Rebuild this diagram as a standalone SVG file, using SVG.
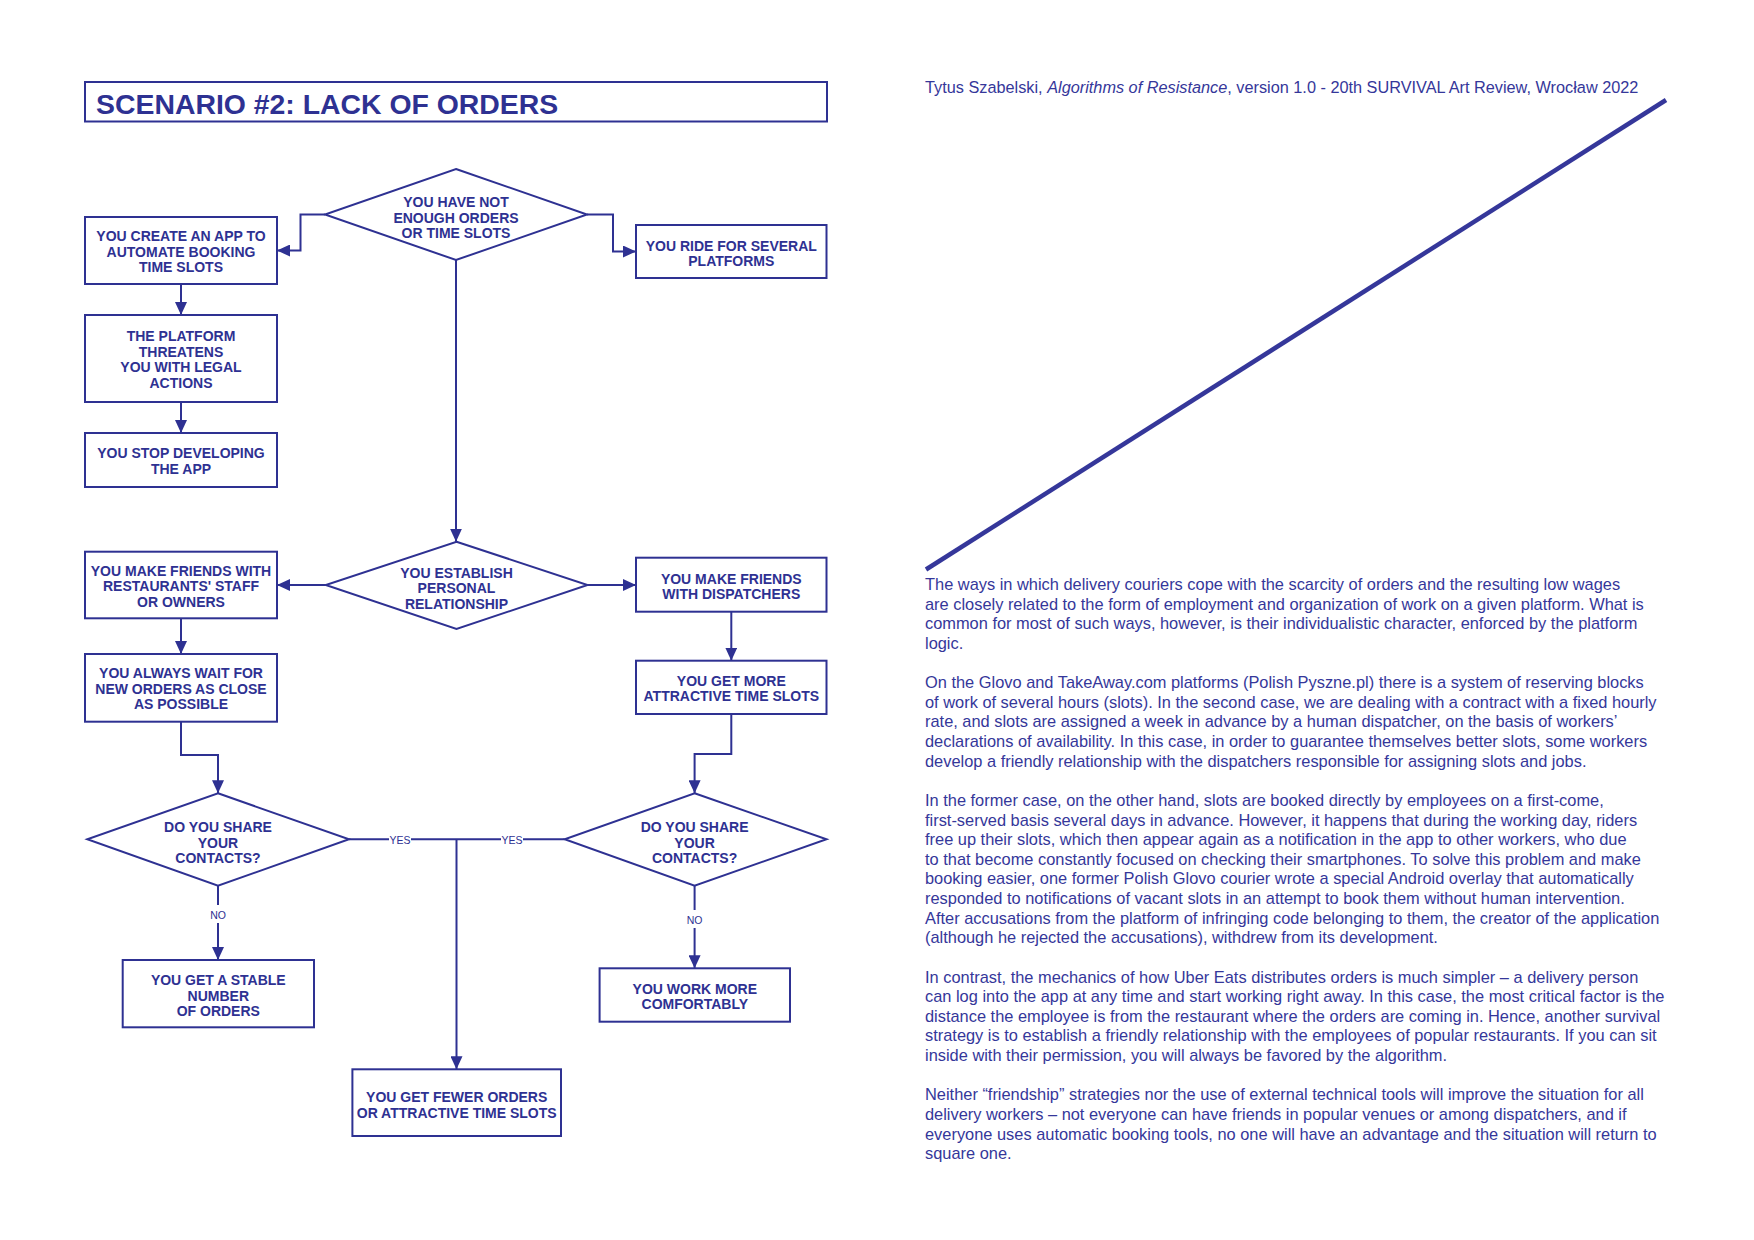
<svg xmlns="http://www.w3.org/2000/svg" width="1754" height="1240" viewBox="0 0 1754 1240">
<defs>
<marker id="ah" markerUnits="userSpaceOnUse" markerWidth="13" markerHeight="12" refX="13" refY="6" orient="auto">
<path d="M0,0 L13,6 L0,12 z" fill="#2e3192"/>
</marker>
<style>
.box{fill:#fff;stroke:#2e3192;stroke-width:2}
.nt{font-family:"Liberation Sans",Arial,sans-serif;font-weight:bold;font-size:14px;fill:#2e3192;text-anchor:middle}
.cn{fill:none;stroke:#2e3192;stroke-width:2}
.ar{marker-end:url(#ah)}
.lbl{font-family:"Liberation Sans",Arial,sans-serif;font-size:10.5px;fill:#2e3192;text-anchor:middle}
.body{font-family:"Liberation Sans",Arial,sans-serif;font-size:16.4px;fill:#35379a}
</style>
</defs>
<rect width="1754" height="1240" fill="#fff"/>

<g id="title">
<rect class="box" x="85" y="82" width="742" height="39.5"/>
<text x="96" y="114" font-family="Liberation Sans, Arial, sans-serif" font-weight="bold" font-size="28.4" fill="#2e3192">SCENARIO #2: LACK OF ORDERS</text>
</g>

<g id="connectors">
<path class="cn ar" d="M325,214.5 H300.5 V250.5 H277"/>
<path class="cn ar" d="M587,214.5 H613 V251.5 H636"/>
<path class="cn ar" d="M181,284 V315"/>
<path class="cn ar" d="M181,402 V433"/>
<path class="cn ar" d="M456,260 V541.7"/>
<path class="cn ar" d="M325.8,585 H277"/>
<path class="cn ar" d="M587.5,585 H636"/>
<path class="cn ar" d="M181,618.3 V654"/>
<path class="cn ar" d="M731.3,611.7 V660.7"/>
<path class="cn ar" d="M181,721.7 V755 H218 V793.3"/>
<path class="cn ar" d="M731.3,714 V754 H694.6 V793.3"/>
<path class="cn" d="M349,839.3 H389 M411,839.3 H501 M523,839.3 H564.7"/>
<path class="cn ar" d="M456.5,839.3 V1069.3"/>
<path class="cn" d="M218,885.7 V905"/>
<path class="cn ar" d="M218,923 V960"/>
<path class="cn" d="M694.6,885.7 V910"/>
<path class="cn ar" d="M694.6,928 V968.3"/>
<text class="lbl" x="400" y="843.5">YES</text>
<text class="lbl" x="512" y="843.5">YES</text>
<text class="lbl" x="218" y="918.5">NO</text>
<text class="lbl" x="694.6" y="923.5">NO</text>
</g>

<g id="n_not_enough">
<polygon class="box" points="456,169 587,214.5 456,260 325,214.5"/>
<text class="nt"><tspan x="456" y="207">YOU HAVE NOT</tspan><tspan x="456" y="222.5">ENOUGH ORDERS</tspan><tspan x="456" y="238">OR TIME SLOTS</tspan></text>
</g>
<g id="n_create_app">
<rect class="box" x="85" y="217" width="192" height="67"/>
<text class="nt"><tspan x="181" y="241">YOU CREATE AN APP TO</tspan><tspan x="181" y="256.5">AUTOMATE BOOKING</tspan><tspan x="181" y="272">TIME SLOTS</tspan></text>
</g>
<g id="n_ride">
<rect class="box" x="636" y="225" width="190.5" height="53"/>
<text class="nt"><tspan x="731.3" y="250.5">YOU RIDE FOR SEVERAL</tspan><tspan x="731.3" y="266">PLATFORMS</tspan></text>
</g>
<g id="n_threatens">
<rect class="box" x="85" y="315" width="192" height="87"/>
<text class="nt"><tspan x="181" y="341">THE PLATFORM</tspan><tspan x="181" y="356.5">THREATENS</tspan><tspan x="181" y="372">YOU WITH LEGAL</tspan><tspan x="181" y="387.5">ACTIONS</tspan></text>
</g>
<g id="n_stop">
<rect class="box" x="85" y="433" width="192" height="54"/>
<text class="nt"><tspan x="181" y="458">YOU STOP DEVELOPING</tspan><tspan x="181" y="474">THE APP</tspan></text>
</g>
<g id="n_establish">
<polygon class="box" points="456.5,541.7 587.5,585 456.5,629 325.8,585"/>
<text class="nt"><tspan x="456.5" y="577.5">YOU ESTABLISH</tspan><tspan x="456.5" y="593">PERSONAL</tspan><tspan x="456.5" y="608.7">RELATIONSHIP</tspan></text>
</g>
<g id="n_friends_rest">
<rect class="box" x="85" y="551.7" width="192" height="66.6"/>
<text class="nt"><tspan x="181" y="575.5">YOU MAKE FRIENDS WITH</tspan><tspan x="181" y="591">RESTAURANTS' STAFF</tspan><tspan x="181" y="606.5">OR OWNERS</tspan></text>
</g>
<g id="n_friends_disp">
<rect class="box" x="636" y="557.7" width="190.5" height="54"/>
<text class="nt"><tspan x="731.3" y="584">YOU MAKE FRIENDS</tspan><tspan x="731.3" y="599.3">WITH DISPATCHERS</tspan></text>
</g>
<g id="n_wait">
<rect class="box" x="85" y="654" width="192" height="67.7"/>
<text class="nt"><tspan x="181" y="678">YOU ALWAYS WAIT FOR</tspan><tspan x="181" y="694">NEW ORDERS AS CLOSE</tspan><tspan x="181" y="709">AS POSSIBLE</tspan></text>
</g>
<g id="n_more_slots">
<rect class="box" x="636" y="660.7" width="190.5" height="53.3"/>
<text class="nt"><tspan x="731.3" y="686">YOU GET MORE</tspan><tspan x="731.3" y="701">ATTRACTIVE TIME SLOTS</tspan></text>
</g>
<g id="n_share_left">
<polygon class="box" points="218,793.3 349,839.3 218,885.7 87.3,839.3"/>
<text class="nt"><tspan x="218" y="832">DO YOU SHARE</tspan><tspan x="218" y="847.5">YOUR</tspan><tspan x="218" y="863">CONTACTS?</tspan></text>
</g>
<g id="n_share_right">
<polygon class="box" points="694.6,793.3 826.5,839.3 694.6,885.7 564.7,839.3"/>
<text class="nt"><tspan x="694.6" y="832">DO YOU SHARE</tspan><tspan x="694.6" y="847.5">YOUR</tspan><tspan x="694.6" y="863">CONTACTS?</tspan></text>
</g>
<g id="n_stable">
<rect class="box" x="122.7" y="960" width="191.3" height="67.3"/>
<text class="nt"><tspan x="218.3" y="985">YOU GET A STABLE</tspan><tspan x="218.3" y="1000.5">NUMBER</tspan><tspan x="218.3" y="1016">OF ORDERS</tspan></text>
</g>
<g id="n_comfort">
<rect class="box" x="599.6" y="968.3" width="190.4" height="53.4"/>
<text class="nt"><tspan x="694.8" y="994">YOU WORK MORE</tspan><tspan x="694.8" y="1009">COMFORTABLY</tspan></text>
</g>
<g id="n_fewer">
<rect class="box" x="352.4" y="1069.3" width="208.6" height="66.7"/>
<text class="nt"><tspan x="456.7" y="1101.5">YOU GET FEWER ORDERS</tspan><tspan x="456.7" y="1117.5">OR ATTRACTIVE TIME SLOTS</tspan></text>
</g>

<g id="header">
<text x="925" y="93.3" font-family="Liberation Sans, Arial, sans-serif" font-size="16.3" fill="#35379a">Tytus Szabelski, <tspan font-style="italic">Algorithms of Resistance</tspan>, version 1.0 - 20th SURVIVAL Art Review, Wrocław 2022</text>
</g>

<line x1="926" y1="569.5" x2="1666" y2="100" stroke="#35379a" stroke-width="4.5"/>

<g id="essay">
<text class="body">
<tspan x="925" y="590">The ways in which delivery couriers cope with the scarcity of orders and the resulting low wages</tspan>
<tspan x="925" y="609.63">are closely related to the form of employment and organization of work on a given platform. What is</tspan>
<tspan x="925" y="629.26">common for most of such ways, however, is their individualistic character, enforced by the platform</tspan>
<tspan x="925" y="648.89">logic.</tspan>
<tspan x="925" y="688.15">On the Glovo and TakeAway.com platforms (Polish Pyszne.pl) there is a system of reserving blocks</tspan>
<tspan x="925" y="707.78">of work of several hours (slots). In the second case, we are dealing with a contract with a fixed hourly</tspan>
<tspan x="925" y="727.41">rate, and slots are assigned a week in advance by a human dispatcher, on the basis of workers’</tspan>
<tspan x="925" y="747.04">declarations of availability. In this case, in order to guarantee themselves better slots, some workers</tspan>
<tspan x="925" y="766.67">develop a friendly relationship with the dispatchers responsible for assigning slots and jobs.</tspan>
<tspan x="925" y="805.93">In the former case, on the other hand, slots are booked directly by employees on a first-come,</tspan>
<tspan x="925" y="825.56">first-served basis several days in advance. However, it happens that during the working day, riders</tspan>
<tspan x="925" y="845.19">free up their slots, which then appear again as a notification in the app to other workers, who due</tspan>
<tspan x="925" y="864.82">to that become constantly focused on checking their smartphones. To solve this problem and make</tspan>
<tspan x="925" y="884.45">booking easier, one former Polish Glovo courier wrote a special Android overlay that automatically</tspan>
<tspan x="925" y="904.08">responded to notifications of vacant slots in an attempt to book them without human intervention.</tspan>
<tspan x="925" y="923.71">After accusations from the platform of infringing code belonging to them, the creator of the application</tspan>
<tspan x="925" y="943.34">(although he rejected the accusations), withdrew from its development.</tspan>
<tspan x="925" y="982.6">In contrast, the mechanics of how Uber Eats distributes orders is much simpler – a delivery person</tspan>
<tspan x="925" y="1002.23">can log into the app at any time and start working right away. In this case, the most critical factor is the</tspan>
<tspan x="925" y="1021.86">distance the employee is from the restaurant where the orders are coming in. Hence, another survival</tspan>
<tspan x="925" y="1041.49">strategy is to establish a friendly relationship with the employees of popular restaurants. If you can sit</tspan>
<tspan x="925" y="1061.12">inside with their permission, you will always be favored by the algorithm.</tspan>
<tspan x="925" y="1100.38">Neither “friendship” strategies nor the use of external technical tools will improve the situation for all</tspan>
<tspan x="925" y="1120.01">delivery workers – not everyone can have friends in popular venues or among dispatchers, and if</tspan>
<tspan x="925" y="1139.64">everyone uses automatic booking tools, no one will have an advantage and the situation will return to</tspan>
<tspan x="925" y="1159.27">square one.</tspan>
</text>
</g>
</svg>
